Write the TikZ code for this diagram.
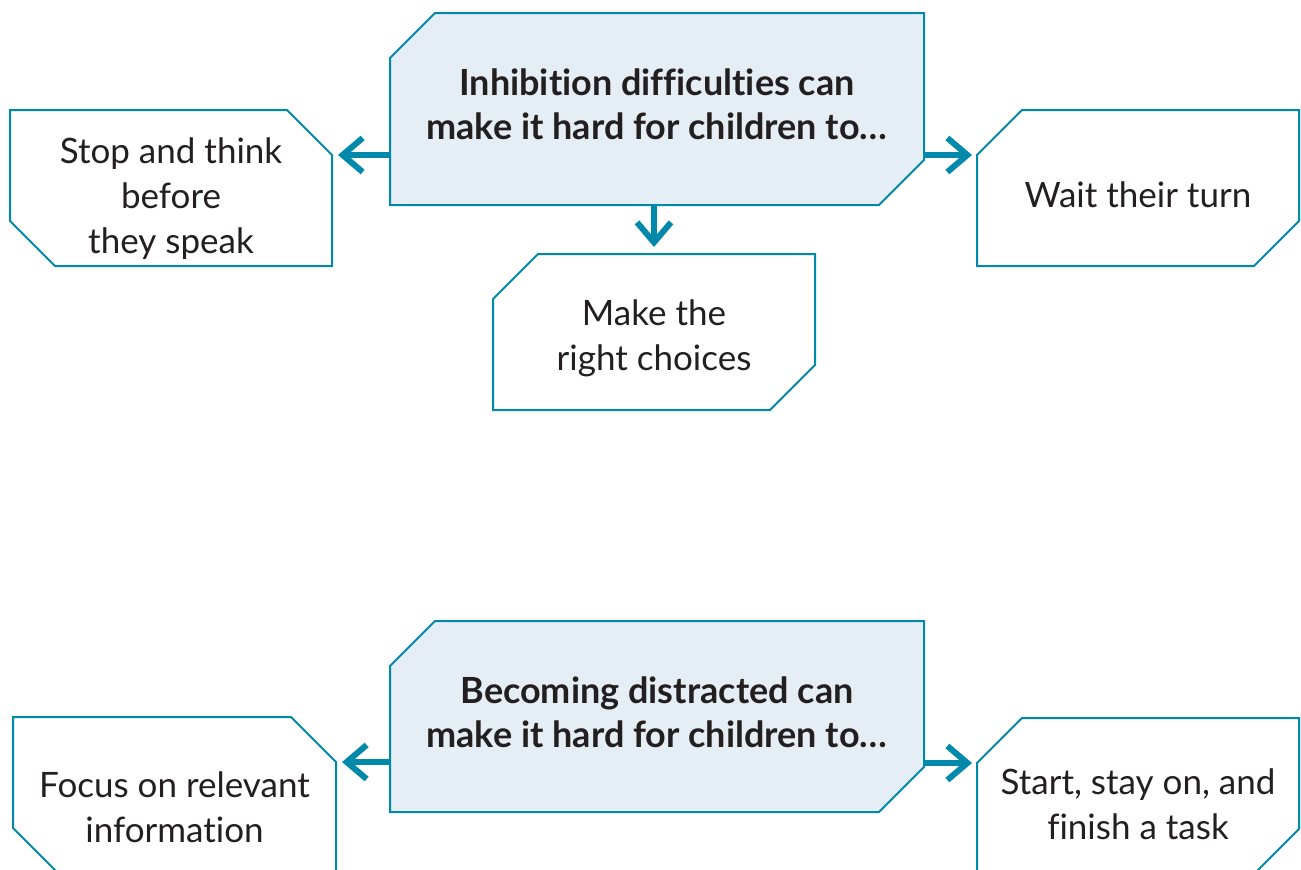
\documentclass[tikz,border=0pt]{standalone}
\usepackage{fontspec}
\setmainfont{Lato}[Ligatures=NoCommon]
\usetikzlibrary{arrows.meta}
\definecolor{tealc}{RGB}{0,137,170}
\definecolor{fillc}{RGB}{230,238,245}
\definecolor{txtc}{RGB}{35,31,32}
\def\cc{45pt}
\newcommand\chamTLBR[2]{\path[boxline,fill=#2] ([yshift=-\cc]#1.north west) -- ([xshift=\cc]#1.north west) -- (#1.north east) -- ([yshift=\cc]#1.south east) -- ([xshift=-\cc]#1.south east) -- (#1.south west) -- cycle;}
\newcommand\chamTRBL[2]{\path[boxline,fill=#2] (#1.north west) -- ([xshift=-\cc]#1.north east) -- ([yshift=-\cc]#1.north east) -- (#1.south east) -- ([xshift=\cc]#1.south west) -- ([yshift=\cc]#1.south west) -- cycle;}
\tikzset{
  boxnode/.style={draw=none, inner sep=0pt, outer sep=0pt},
  boxline/.style={draw=tealc, line width=2pt, line join=miter},
  txt/.style={text=txtc, align=center, font=\fontsize{35}{45}\selectfont},
  ttl/.style={text=txtc, align=center, font=\fontsize{36}{44}\selectfont\bfseries},
  arr/.style={draw=tealc, line width=6pt, -{Straight Barb[length=20pt,width=34pt]}}
}
\begin{document}
\begin{tikzpicture}[x=1pt,y=-1pt]
\clip (0,0) rectangle (1301,870);
\fill[white] (0,0) rectangle (1301,870);
% box frames
\node[boxnode, minimum width=534pt, minimum height=192pt] (T) at (657,109) {};
\node[boxnode, minimum width=322pt, minimum height=156pt] (L1) at (171,188) {};
\node[boxnode, minimum width=322pt, minimum height=156pt] (R1) at (1138,188) {};
\node[boxnode, minimum width=322pt, minimum height=156pt] (M1) at (654,332) {};
\node[boxnode, minimum width=534pt, minimum height=191pt] (B) at (657,716.5) {};
\node[boxnode, minimum width=323pt, minimum height=156pt] (L2) at (174.5,795) {};
\node[boxnode, minimum width=322pt, minimum height=156pt] (R2) at (1138,796) {};
\chamTLBR{T}{fillc}
\chamTRBL{L1}{white}
\chamTLBR{R1}{white}
\chamTLBR{M1}{white}
\chamTLBR{B}{fillc}
\chamTRBL{L2}{white}
\chamTLBR{R2}{white}
% texts
\node[ttl] (Tt) at (657,104) {Inhibition difficulties can\\make it hard for children to\dots};
\node[txt] (L1t) at (171,199) {Stop and think\\before\\they speak};
\node[txt] (R1t) at (1138,194.5) {Wait their turn};
\node[txt] (M1t) at (654,338.5) {Make the\\right choices};
\node[ttl] (Bt) at (657,712) {Becoming distracted can\\make it hard for children to\dots};
\node[txt] (L2t) at (174.5,807) {Focus on relevant\\information};
\node[txt] (R2t) at (1138,804) {Start, stay on, and\\finish a task};
% connectors
\coordinate (L1c) at ([yshift=-\cc]L1.north east);
\coordinate (R1c) at ([yshift=-\cc]R1.north west);
\coordinate (L2c) at ([yshift=-\cc]L2.north east);
\coordinate (R2c) at ([yshift=-\cc]R2.north west);
\draw[arr] (T.west |- L1c) -- ([xshift=6pt]L1c);
\draw[arr] (T.east |- R1c) -- ([xshift=-5pt]R1c);
\draw[arr] (M1.north |- T.south) -- ([yshift=7pt]M1.north);
\draw[arr] (B.west |- L2c) -- ([xshift=6pt]L2c);
\draw[arr] (B.east |- R2c) -- ([xshift=-5pt]R2c);
\end{tikzpicture}
\end{document}
